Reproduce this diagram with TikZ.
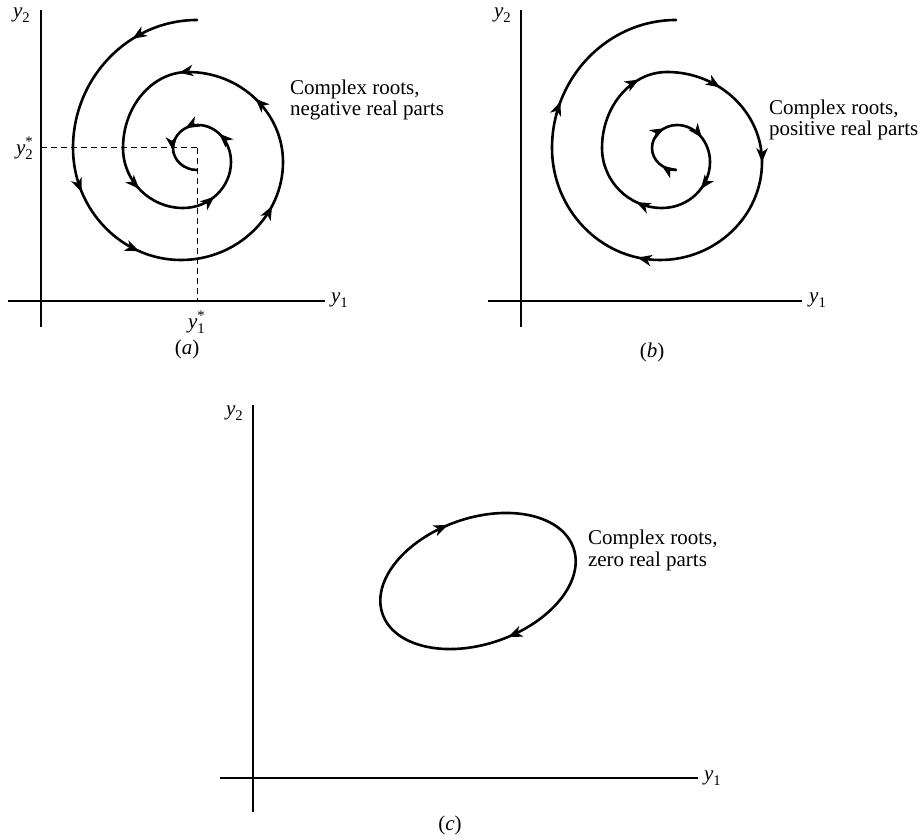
\documentclass[tikz,border=0pt]{standalone}
\usepackage{fontspec}
\setmainfont{Liberation Serif}
\usepackage{amsmath}
\usepackage{tikz}
\usetikzlibrary{arrows.meta,decorations.markings}

\newcommand{\yv}[1]{$\textit{y}_{\text{#1}}$}
\newcommand{\yvs}[1]{$\textit{y}^{\text{*}}_{\text{#1}}$}
% spiral used in (a) and, shifted, in (b)
\newcommand{\spiralpath}{(197,20) .. controls (128.8,20) and (73,77.6) .. (73,148)
 .. controls (73,209.6) and (121.6,260) .. (181,260)
 .. controls (237.1,260) and (283,215.9) .. (283,162)
 .. controls (283,112.5) and (240.3,72) .. (188,72)
 .. controls (152.3,72) and (123,106.2) .. (123,148)
 .. controls (123,181) and (150,208) .. (183,208)
 .. controls (209.4,208) and (231,187.3) .. (231,162)
 .. controls (231,141.7) and (216.2,125) .. (198,125)
 .. controls (184.3,125) and (173,135.4) .. (173,148)
 .. controls (173,160.1) and (183.8,170) .. (197,170)}

\tikzset{
  axis/.style={line width=0.6pt},
  traj/.style={line width=1.3pt,line cap=round},
  guide/.style={line width=0.5pt,dash pattern=on 3pt off 2pt},
  lbl/.style={inner sep=0pt,outer sep=0pt,font=\fontsize{10.5}{12.6}\selectfont},
}

\begin{document}
\begin{tikzpicture}[x=.5pt,y=-.5pt,>={Stealth[length=7pt,width=5.6pt,inset=2pt]}]
\path[use as bounding box] (0,0) rectangle (924,839);
\path[fill=white,draw=none] (0,0) rectangle (924,839);

% (a) negative real parts
\draw[axis] (41,10) -- (41,327);
\draw[axis] (8,301) -- (325,301);
\draw[guide] (41,148) -- (197,148);
\draw[guide] (197,148) -- (197,301);
\draw[traj,postaction={decorate},decoration={markings,
  mark=at position 0.063 with {\arrow{>}},
  mark=at position 0.225 with {\arrow{>}},
  mark=at position 0.303 with {\arrow{>}},
  mark=at position 0.446 with {\arrow{>}},
  mark=at position 0.554 with {\arrow{>}},
  mark=at position 0.631 with {\arrow{>}},
  mark=at position 0.767 with {\arrow{>}},
  mark=at position 0.844 with {\arrow{>}},
  mark=at position 0.910 with {\arrow{>}},
  mark=at position 0.944 with {\arrow{>}},
  mark=at position 0.969 with {\arrow{>}}}] \spiralpath;
\node[lbl] (ya2) at (22,15) {\yv{2}};
\node[lbl] (ya1) at (340,300) {\yv{1}};
\node[lbl] (ya2s) at (25,148) {\yvs{2}};
\node[lbl] (ya1s) at (197,322) {\yvs{1}};
\node[lbl] (capa) at (187,349) {(\textit{a})};
\node[lbl,anchor=base west] (notea1) at (290,95) {Complex roots,};
\node[lbl,anchor=base west] (notea2) at (290,116) {negative real parts};

% (b) positive real parts
\draw[axis] (521,10) -- (521,327);
\draw[axis] (488,301) -- (802,301);
\begin{scope}[xshift=239.5pt]
\draw[traj,postaction={decorate},decoration={markings,
  mark=at position 0.139 with {\arrowreversed{>}},
  mark=at position 0.322 with {\arrowreversed{>}},
  mark=at position 0.488 with {\arrowreversed{>}},
  mark=at position 0.571 with {\arrowreversed{>}},
  mark=at position 0.650 with {\arrowreversed{>}},
  mark=at position 0.788 with {\arrowreversed{>}},
  mark=at position 0.854 with {\arrowreversed{>}},
  mark=at position 0.905 with {\arrowreversed{>}},
  mark=at position 0.944 with {\arrowreversed{>}},
  mark=at position 0.986 with {\arrowreversed{>}}}] \spiralpath;
\end{scope}
\node[lbl] (yb2) at (503,15) {\yv{2}};
\node[lbl] (yb1) at (818,300) {\yv{1}};
\node[lbl] (capb) at (652,352) {(\textit{b})};
\node[lbl,anchor=base west] (noteb1) at (769,115) {Complex roots,};
\node[lbl,anchor=base west] (noteb2) at (769,136) {positive real parts};

% (c) zero real parts
\draw[axis] (253,405) -- (253,812);
\draw[axis] (220,778) -- (698,778);
\draw[traj,rotate around={19:(478,581)},postaction={decorate},decoration={markings,
  mark=at position 0.27 with {\arrowreversed{>}},
  mark=at position 0.77 with {\arrowreversed{>}}}]
  (478,581) ellipse [x radius=50.5pt,y radius=31.5pt];
\node[lbl] (yc2) at (235,413) {\yv{2}};
\node[lbl] (yc1) at (713,778) {\yv{1}};
\node[lbl] (capc) at (450,825) {(\textit{c})};
\node[lbl,anchor=base west] (notec1) at (588,544) {Complex roots,};
\node[lbl,anchor=base west] (notec2) at (588,566) {zero real parts};
\end{tikzpicture}
\end{document}
